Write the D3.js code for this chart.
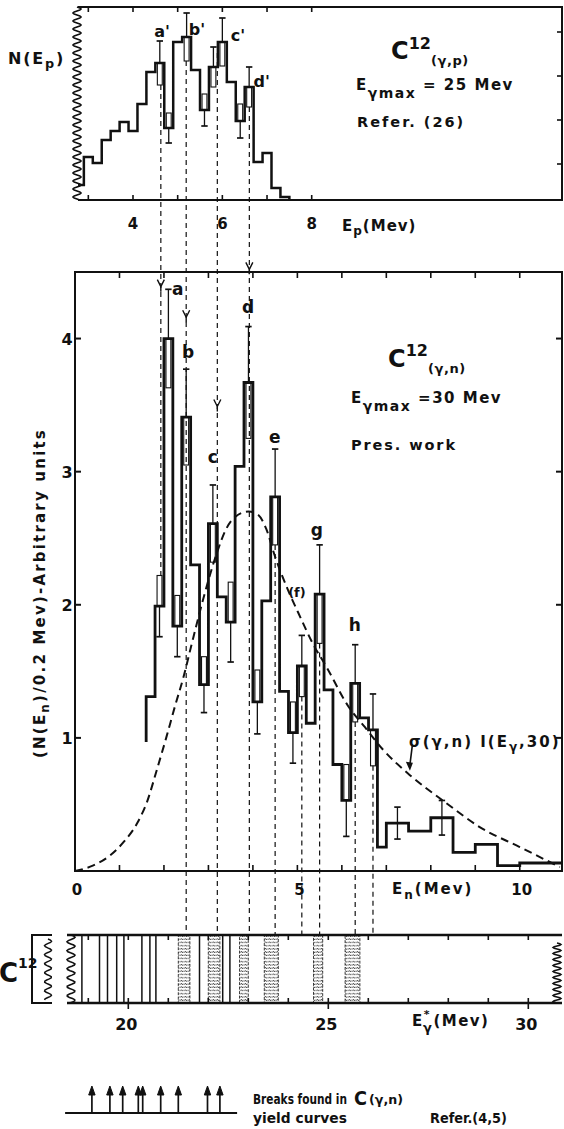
<!DOCTYPE html>
<html><head><meta charset="utf-8">
<script src="https://cdn.jsdelivr.net/npm/d3@7"></script>
<style>
html,body{margin:0;padding:0;background:#fff;}
svg{display:block;}
text{font-family:"DejaVu Sans",sans-serif;font-weight:bold;fill:#111;}
</style></head><body>
<svg id="chart" width="564" height="1129"></svg>
<script>
// ================= DATA =================
// Top panel: C12(g,p) proton spectrum (arbitrary units)
const topBinEdges = [2.77,2.9,3.1,3.3,3.5,3.7,3.9,4.1,4.3,4.5,4.7,4.9,5.1,5.3,5.5,5.7,5.9,6.1,6.3,6.5,6.7,6.9,7.1,7.3,7.5];
const topCounts   = [15,43,37,60,69,78,69,96,128,137,72,158,163,130,90,133,158,118,79,113,38,47,12,3];
const topErrBins  = [9,10,12,14,15,16,18,19];
const topErrSize  = [22,15,24,16,20,24,17,20];
const topErrSide  = [-1,1,-1,1,-1,-1,1,-1];
const topTicks    = [3,4,5,6,7,8];
const topTickLabels = [4,6,8];
const topRightTicks = [36,80,124,168];
const topPeakNames = ["a'","b'","c'","d'"];
const topPeakEp    = [4.65,5.43,6.35,6.88];
const topPeakN     = [169,171,165,119];

// Main panel: C12(g,n) neutron spectrum
const mainBinEdges = [1.6,1.8,2.0,2.2,2.4,2.6,2.8,3.0,3.2,3.4,3.6,3.8,4.0,4.2,4.4,4.6,4.8,5.0,5.2,5.4,5.6,5.8,6.0,6.2,6.4,6.6,6.8,7.0,7.5,8.0,8.5,9.0,9.5,10.0,10.95];
const mainValues   = [1.31,1.99,4.00,1.84,3.41,2.30,1.40,2.61,2.06,1.87,3.04,3.67,1.27,2.03,2.81,1.35,1.04,1.54,1.11,2.08,1.36,0.80,0.53,1.41,1.15,1.06,0.18,0.36,0.30,0.40,0.14,0.20,0.04,0.06];
const mainStartV   = 0.97;
const mainErrBins  = [1,2,3,4,6,7,9,11,12,14,16,17,19,22,23,25,27,29];
const mainErrSize  = [0.23,0.37,0.23,0.36,0.21,0.29,0.30,0.42,0.24,0.36,0.23,0.23,0.37,0.27,0.29,0.27,0.12,0.13];
const mainErrSide  = [1,-1,1,-1,1,-1,1,-1,1,-1,1,-1,-1,1,-1,-1,0,0];
const xTicksMain   = [1,2,3,4,5,6,7,8,9,10];
const xTickLabelsMain = [0,5,10];
const yTicksMain   = [1,2,3,4];
const peakNames = ["a","b","c","d","e","(f)","g","h"];
const peakEn    = [2.31,2.54,3.10,3.89,4.49,4.99,5.44,6.29];
const peakV     = [4.37,3.90,3.11,4.24,3.26,2.10,2.56,1.85];

// sigma(g,n) I(Eg,30) curve
const curveEn = [0,0.4,0.8,1.1,1.4,1.62,1.84,2.05,2.25,2.45,2.62,2.88,3.18,3.4,3.6,3.9,4.1,4.3,4.49,4.79,5.02,5.36,5.66,6.14,6.52,6.93,7.53,8.35,9.1,10.0,10.9];
const curveV  = [0,0.04,0.12,0.22,0.36,0.52,0.76,1.0,1.24,1.47,1.70,2.04,2.38,2.57,2.66,2.70,2.68,2.57,2.37,2.11,1.94,1.70,1.53,1.24,1.08,0.91,0.72,0.51,0.33,0.18,0.03];
const curveArrowEn = 7.53;

// connecting lines from (g,p) peaks
const linkEn       = [1.93,2.5,3.2,3.92];
const linkTopStart = [115,139,147,93];
const linkMarkV    = [4.39,4.16,3.49,4.52];
const linkEndV     = [2.22,null,null,null];
// drop lines from (g,n) peaks to level scheme
const dropEn     = [4.5,5.1,5.5,6.3,6.7];
const dropStartV = [2.45,1.31,1.71,1.12,0.79];

// C12 level scheme (excitation energy, MeV)
const levelLines = [18.84,19.28,19.48,19.71,19.89,20.34,20.54,20.69,21.78,22.36,22.54];
const levelBands = [[21.25,21.54],[22.0,22.29],[22.78,23.0],[23.4,23.75],[24.63,24.86],[25.42,25.79]];
const gTicks = [19,20,21,22,23,24,25,26,27,28,29,30];
const gTickLabels = [20,25,30];
// breaks found in C(g,n) yield curves
const breaksEg = [19.09,19.54,19.86,20.25,20.36,20.81,21.25,21.98,22.29];
const breaksLine = [18.42,22.72];

// ================= DRAW =================
const svg = d3.select("#chart");
const ink = "#111";

const xM = d3.scaleLinear().domain([0,10.95]).range([75,562]);
const yM = d3.scaleLinear().domain([0,4.5]).range([871,272]);
const xT = d3.scaleLinear().domain([4,8]).range([133,311.7]);
const yT = d3.scaleLinear().domain([0,193]).range([200,7]);
const xG = d3.scaleLinear().domain([20,30]).range([128.3,528.3]);
const gTop = 935, gBot = 1003;

function wavy(x0,y0,y1,amp,period){
  const n = Math.ceil(Math.abs(y1-y0)/(period/8));
  const pts = d3.range(n+1).map(i=>{const y=y0+(y1-y0)*i/n;return [x0+amp*Math.sin(2*Math.PI*(y-y0)/period),y];});
  return d3.line()(pts);
}
function seg(g,x1,y1,x2,y2,w,dash){
  const l=g.append("line").attr("x1",x1).attr("y1",y1).attr("x2",x2).attr("y2",y2)
    .attr("stroke",ink).attr("stroke-width",w||1.5);
  if(dash) l.attr("stroke-dasharray",dash);
  return l;
}
function errBar(g,xs,ys,eL,eR,v,e,side){
  const x0=xs(eL),x1=xs(eR),cx=(x0+x1)/2,bw=(x1-x0)*0.55;
  const cap=3.2;
  if(side!==0){
    const b0=side<0?v-e:v, b1=side<0?v:v+e;
    g.append("rect").attr("x",cx-bw/2).attr("y",ys(b1)).attr("width",bw)
      .attr("height",ys(b0)-ys(b1)).attr("fill","none").attr("stroke",ink).attr("stroke-width",1.1);
    const wEnd=side<0?v+e:v-e;
    seg(g,cx,ys(v),cx,ys(wEnd),1.3);
    seg(g,cx-cap,ys(wEnd),cx+cap,ys(wEnd),1.7);
  } else {
    seg(g,cx,ys(v-e),cx,ys(v+e),1.3);
    seg(g,cx-cap,ys(v-e),cx+cap,ys(v-e),1.7);
    seg(g,cx-cap,ys(v+e),cx+cap,ys(v+e),1.7);
  }
}
function sub(t,s,dy){ t.append("tspan").text(s).attr("dy",dy).attr("font-size","0.8em"); }

// ---------- TOP PANEL ----------
const gT = svg.append("g");
gT.append("path").attr("d",`M78,7H562V200H78`).attr("fill","none").attr("stroke",ink).attr("stroke-width",2);
gT.append("path").attr("d",wavy(77,7,200,4,8)).attr("fill","none").attr("stroke",ink).attr("stroke-width",1.6);
topTicks.forEach(t=>{seg(gT,xT(t),200,xT(t),195,1.6);seg(gT,xT(t),7,xT(t),12,1.6);});
topRightTicks.forEach(t=>seg(gT,562,yT(t),557,yT(t),1.6));
topTickLabels.forEach(t=>gT.append("text").attr("x",xT(t)).attr("y",229).attr("text-anchor","middle").attr("font-size",15).text(t));
{
  const pts = topCounts.map((c,i)=>[topBinEdges[i],c]);
  pts.push([topBinEdges[topBinEdges.length-1],topCounts[topCounts.length-1]]);
  pts.push([topBinEdges[topBinEdges.length-1],0]);
  gT.append("path").attr("d",d3.line().x(d=>xT(d[0])).y(d=>yT(d[1])).curve(d3.curveStepAfter)(pts))
    .attr("fill","none").attr("stroke",ink).attr("stroke-width",2.5);
}
topErrBins.forEach((b,i)=>errBar(gT,xT,yT,topBinEdges[b],topBinEdges[b+1],topCounts[b],topErrSize[i],topErrSide[i]));
topPeakNames.forEach((n,i)=>gT.append("text").attr("x",xT(topPeakEp[i])).attr("y",yT(topPeakN[i])+6)
  .attr("text-anchor","middle").attr("font-size",16).text(n));
// labels
{
  const t=gT.append("text").attr("x",8).attr("y",64).attr("font-size",16).attr("letter-spacing",1.8).text("N(E");
  sub(t,"p",4); t.append("tspan").attr("dy",-4).text(")");
  const e=gT.append("text").attr("x",342).attr("y",231).attr("font-size",15).attr("letter-spacing",1).text("E");
  sub(e,"p",4); e.append("tspan").attr("dy",-4).text("(Mev)");
  const c=gT.append("text").attr("x",391).attr("y",59).attr("font-size",24).attr("font-weight","normal").text("C");
  c.append("tspan").attr("dy",-10).attr("font-size",16).text("12");
  c.append("tspan").attr("dy",16).attr("font-size",13).attr("letter-spacing",0.6).text("(γ,p)");
  const em=gT.append("text").attr("x",356).attr("y",90).attr("font-size",15).attr("letter-spacing",1.5).text("E");
  em.append("tspan").attr("dy",8).attr("font-size",14).text("γmax");
  em.append("tspan").attr("dy",-8).text(" = 25  Mev");
  gT.append("text").attr("x",357).attr("y",127).attr("font-size",14.5).attr("letter-spacing",2).text("Refer.  (26)");
}

// ---------- MAIN PANEL ----------
const gM = svg.append("g");
gM.append("rect").attr("x",75).attr("y",272).attr("width",487).attr("height",599)
  .attr("fill","none").attr("stroke",ink).attr("stroke-width",2);
xTicksMain.forEach(t=>{seg(gM,xM(t),871,xM(t),865,1.6);seg(gM,xM(t),272,xM(t),278,1.6);});
yTicksMain.forEach(t=>{seg(gM,75,yM(t),81,yM(t),2);seg(gM,562,yM(t),556,yM(t),2);});
yTicksMain.forEach(t=>gM.append("text").attr("x",67).attr("y",yM(t)+6).attr("text-anchor","middle").attr("font-size",16).text(t));
xTickLabelsMain.forEach(t=>gM.append("text").attr("x",xM(t)+2).attr("y",895).attr("text-anchor","middle").attr("font-size",15).text(t));
{
  const e=gM.append("text").attr("x",392).attr("y",894).attr("font-size",15).attr("letter-spacing",2).text("E");
  sub(e,"n",5); e.append("tspan").attr("dy",-5).text("(Mev)");
}
// dashed sigma curve
gM.append("path").attr("d",d3.line().x((d,i)=>xM(curveEn[i])).y((d,i)=>yM(curveV[i])).curve(d3.curveMonotoneX)(curveEn))
  .attr("fill","none").attr("stroke",ink).attr("stroke-width",2).attr("stroke-dasharray","8,5");
// vertical link lines
linkEn.forEach((en,i)=>{
  const x=xM(en), y0=yT(linkTopStart[i]), y1= linkEndV[i]==null? gTop : yM(linkEndV[i]);
  seg(svg,x,y0,x,y1,1.2,"5,4");
  const ym=yM(linkMarkV[i]);
  svg.append("path").attr("d",`M${x-3.5},${ym-7}L${x},${ym}L${x+3.5},${ym-7}M${x},${ym}V${ym+5}`)
    .attr("fill","none").attr("stroke",ink).attr("stroke-width",1.4);
});
dropEn.forEach((en,i)=>seg(svg,xM(en),yM(dropStartV[i]),xM(en),gTop,1.2,"5,4"));
// histogram
{
  const pts=[[mainBinEdges[0],mainStartV]].concat(mainValues.map((v,i)=>[mainBinEdges[i],v]));
  pts.push([mainBinEdges[mainBinEdges.length-1],mainValues[mainValues.length-1]]);
  gM.append("path").attr("d",d3.line().x(d=>xM(d[0])).y(d=>yM(d[1])).curve(d3.curveStepAfter)(pts))
    .attr("fill","none").attr("stroke",ink).attr("stroke-width",2.8);
}
mainErrBins.forEach((b,i)=>errBar(gM,xM,yM,mainBinEdges[b],mainBinEdges[b+1],mainValues[b],mainErrSize[i],mainErrSide[i]));
peakNames.forEach((n,i)=>gM.append("text").attr("x",xM(peakEn[i])).attr("y",yM(peakV[i])+6)
  .attr("text-anchor","middle").attr("font-size",n==="(f)"?13:17).text(n));
// curve annotation
{
  const tipX=xM(curveArrowEn), tipY=yM(0.73)-3;
  seg(gM,tipX+2.5,tipY-26,tipX,tipY-6,1.6);
  gM.append("path").attr("d",`M${tipX-4},${tipY-9}L${tipX},${tipY}L${tipX+3},${tipY-8}Z`).attr("fill",ink);
  const t=gM.append("text").attr("x",409).attr("y",747).attr("font-size",15).attr("letter-spacing",2).text("σ(γ,n) I(E");
  sub(t,"γ",4); t.append("tspan").attr("dy",-4).text(",30)");
}
// texts
{
  const c=gM.append("text").attr("x",388).attr("y",367).attr("font-size",24).attr("font-weight","normal").text("C");
  c.append("tspan").attr("dy",-11).attr("font-size",16).text("12");
  c.append("tspan").attr("dy",17).attr("font-size",13).attr("letter-spacing",0.6).text("(γ,n)");
  const em=gM.append("text").attr("x",351).attr("y",403).attr("font-size",15).attr("letter-spacing",1.5).text("E");
  em.append("tspan").attr("dy",8).attr("font-size",14).text("γmax");
  em.append("tspan").attr("dy",-8).text(" =30  Mev");
  gM.append("text").attr("x",351).attr("y",450).attr("font-size",14.5).attr("letter-spacing",1.9).text("Pres.  work");
  const yl=gM.append("text").attr("transform","translate(45,593) rotate(-90)").attr("text-anchor","middle")
    .attr("font-size",15).attr("letter-spacing",2.2).text("(N(E");
  sub(yl,"n",4); yl.append("tspan").attr("dy",-4).text(")/0.2 Mev)-Arbitrary  units");
}

// ---------- LEVEL SCHEME ----------
const gG = svg.append("g");
const defs = svg.append("defs");
const pat = defs.append("pattern").attr("id","hatch").attr("patternUnits","userSpaceOnUse").attr("width",4).attr("height",3.2);
pat.append("path").attr("d","M0,2.2 Q1,0.4 2,1.6 T4,1.2").attr("fill","none").attr("stroke",ink).attr("stroke-width",0.8);
levelBands.forEach(b=>{
  gG.append("rect").attr("x",xG(b[0])).attr("y",gTop).attr("width",xG(b[1])-xG(b[0])).attr("height",gBot-gTop)
    .attr("fill","url(#hatch)").attr("stroke",ink).attr("stroke-width",0.8).attr("stroke-dasharray","3,1.5");
});
levelLines.forEach(e=>seg(gG,xG(e),gTop,xG(e),gBot,1.5));
seg(gG,67,gTop,562,gTop,2.4); seg(gG,67,gBot,562,gBot,2.4);
gG.append("path").attr("d",wavy(71,gTop,gBot,4,9)).attr("fill","none").attr("stroke",ink).attr("stroke-width",1.6);
gG.append("path").attr("d",wavy(557,gTop+8,gBot,4,6)).attr("fill","none").attr("stroke",ink).attr("stroke-width",1.4);
gTicks.forEach(t=>{seg(gG,xG(t),gBot,xG(t),gBot-5,1.6);seg(gG,xG(t),gTop,xG(t),gTop+5,1.6);});
gTickLabels.forEach(t=>{seg(gG,xG(t),gBot,xG(t),gBot+6,1.6);
  gG.append("text").attr("x",xG(t)-2).attr("y",1030).attr("text-anchor","middle").attr("font-size",16).text(t);});
{
  const e=gG.append("text").attr("x",412).attr("y",1026).attr("font-size",15).attr("letter-spacing",1.5).text("E");
  e.append("tspan").attr("dy",-8).attr("font-size",11).text("*");
  e.append("tspan").attr("dx",-8).attr("dy",14).attr("font-size",13).text("γ");
  e.append("tspan").attr("dy",-6).text("(Mev)");
}
// C12 label + small box
gG.append("path").attr("d",`M52,${gTop}H32V${gBot}H52`).attr("fill","none").attr("stroke",ink).attr("stroke-width",2);
gG.append("path").attr("d",wavy(48,gTop+4,gBot-3,3.5,9)).attr("fill","none").attr("stroke",ink).attr("stroke-width",1.5);
{
  const c=gG.append("text").attr("x",-1).attr("y",982).attr("font-size",26).attr("font-weight","normal").text("C");
  c.append("tspan").attr("dy",-14).attr("font-size",14).text("12");
}

// ---------- LEGEND (breaks) ----------
const gL = svg.append("g");
seg(gL,xG(breaksLine[0]),1113,xG(breaksLine[1]),1113,2.2);
breaksEg.forEach(e=>{
  const x=xG(e);
  seg(gL,x,1113,x,1089,1.7);
  gL.append("path").attr("d",`M${x-3.2},${1095}L${x},${1086}L${x+3.2},${1095}Z`).attr("fill",ink).attr("stroke",ink).attr("stroke-width",1);
});
{
  // condensed lettering: scale each text horizontally to its width in the figure
  const fit=(s,x,y,w,fs,fw)=>{
    const t=gL.append("text").attr("font-size",fs).attr("font-weight",fw||"bold").text(s);
    const nat=t.node().getComputedTextLength();
    t.attr("transform",`translate(${x},${y}) scale(${w/nat},1)`);
    return t;
  };
  fit("Breaks  found in",253,1104,94,14.5);
  fit("C",354,1105,13,20,"normal");
  fit("(γ,n)",369,1104,34,12.5);
  fit("yield   curves",253,1123,94,14.5);
  fit("Refer.(4,5)",430,1123,77,14.5);
}
</script>
</body></html>
